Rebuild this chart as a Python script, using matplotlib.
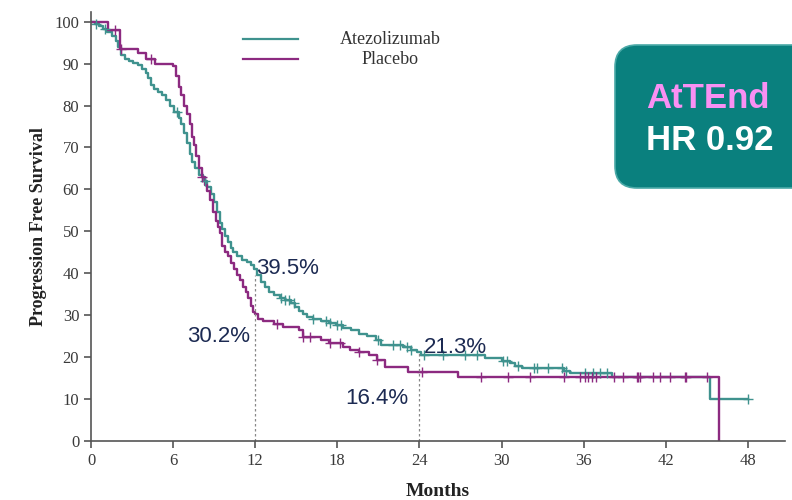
import numpy as np
import matplotlib
matplotlib.use("Agg")
import matplotlib.pyplot as plt
from matplotlib.patches import FancyBboxPatch
from matplotlib.lines import Line2D
from matplotlib.transforms import IdentityTransform

# ---------- data
atezo_t = [0, 0.3, 0.6, 0.9, 1.2, 1.5, 1.8, 2.0, 2.2, 2.5, 2.8, 3.1, 3.4, 3.7, 4.0,
           4.2, 4.4, 4.6, 4.9, 5.2, 5.5, 5.8, 6.1, 6.4, 6.6, 6.8, 7.0, 7.2, 7.4,
           7.6, 7.9, 8.2, 8.5, 8.8, 9.0, 9.2, 9.4, 9.6, 9.8, 10.0, 10.2, 10.4,
           10.7, 11.0, 11.4, 11.7, 11.9, 12.1, 12.4, 12.7, 13.0, 13.4, 13.8, 14.2,
           14.6, 14.9, 15.2, 15.5, 15.8, 16.2, 16.8, 17.4, 17.9, 18.4, 19.0, 19.6,
           20.2, 20.8, 21.2, 22.8, 23.4, 23.8, 24.1, 28.8, 30.0, 30.6, 31.0, 31.5,
           34.6, 35.0, 38.1, 45.2, 48.0]
atezo_s = [100, 99.5, 99, 98.3, 97.5, 96.5, 95.5, 94, 92, 91.2, 90.7, 90.2, 89.6, 88.8, 87.8,
           86.6, 85, 84, 83.3, 82.5, 81.2, 80, 78.5, 77, 75.5, 73.5, 71, 68.5, 66.5,
           65, 63.5, 62, 60.6, 59, 57, 54.5, 52, 50.5, 49, 47.5, 46, 45,
           44, 43.2, 42.7, 42, 41, 39.5, 38, 36.7, 35.6, 34.8, 34.2, 33.6,
           33, 32, 31, 30.2, 29.5, 29, 28.6, 28.2, 27.6, 27, 26.4, 25.6,
           25, 24, 23, 22.5, 21.8, 21.3, 20.5, 19.8, 19.1, 18.5, 17.8, 17.3,
           16.6, 16.2, 15.3, 10.1, 10.1]

placebo_t = [0, 1.25, 2.1, 3.4, 4.0, 4.7, 6.0, 6.2, 6.4, 6.6, 6.8, 7.0, 7.2, 7.35,
             7.5, 7.7, 7.9, 8.1, 8.3, 8.5, 8.7, 8.9, 9.1, 9.3, 9.45, 9.6, 9.8, 10.0,
             10.2, 10.45, 10.7, 10.9, 11.1, 11.3, 11.5, 11.7, 11.85, 12.0, 12.2,
             12.6, 13.4, 14.0, 15.2, 15.5, 16.8, 17.4, 18.4, 18.9, 19.6, 20.3, 20.9,
             21.5, 23.2, 26.8, 45.9]
placebo_s = [100, 98, 93.5, 92.5, 91, 90, 89.4, 87, 84.5, 82.5, 80, 78, 75.5, 72.5,
             70.5, 68, 65, 63, 61, 59.5, 57.5, 54.5, 52.5, 51, 49.5, 46.5, 45, 44,
             42.5, 41, 39.7, 38.3, 36.8, 35.5, 34, 32.3, 30.8, 30.2, 29.0,
             28.6, 28.0, 27.2, 26.5, 24.8, 24.2, 23.3, 22.5, 21.8, 21.2, 20.6, 19.4,
             17.6, 16.4, 15.2, 0]

# censored times
atezo_cens = [0.4, 1.0, 6.3, 8.3, 13.9, 14.2, 14.5, 14.8, 16.2, 17.2, 17.5, 18.0,
              18.3, 21.0, 22.1, 22.6, 23.1, 23.4, 24.3, 25.7, 27.3, 28.2, 30.1,
              30.4, 31.2, 32.4, 32.6, 33.4, 34.4, 34.7, 36.1, 36.7, 37.2, 37.7, 48.0]
placebo_cens = [1.75, 2.2, 4.4, 8.1, 13.6, 15.5, 16.0, 17.5, 18.2, 19.6, 20.9,
                24.2, 28.5, 30.5, 32.1, 34.6, 35.7, 36.1, 36.3, 36.6, 36.9, 38.2,
                38.9, 39.9, 40.0, 40.1, 41.1, 41.6, 42.3, 43.4, 43.5, 45.0]

landmarks = [12, 24]
atezo_lm = [39.5, 21.3]
placebo_lm = [30.2, 16.4]

teal = '#3f928e'
purple = '#8c2a80'


def surv_at(t, times, surv):
    i = np.searchsorted(times, t, side='right') - 1
    return np.array(surv)[i]


fig = plt.figure(figsize=(7.92, 5.0), dpi=100)
ax = fig.add_axes([0.1149, 0.118, 0.876, 0.858])

ax.plot(atezo_t, atezo_s, drawstyle='steps-post', color=teal, lw=1.7)
ax.plot(placebo_t, placebo_s, drawstyle='steps-post', color=purple, lw=1.7)
ax.plot(atezo_cens, surv_at(atezo_cens, atezo_t, atezo_s), '+', color=teal, ms=7, mew=1)
ax.plot(placebo_cens, surv_at(placebo_cens, placebo_t, placebo_s), '+', color=purple, ms=7, mew=1)

# landmark dashed lines
for x, a in zip(landmarks, atezo_lm):
    ax.plot([x, x], [0, a], ls=(0, (2, 2)), color='#888888', lw=0.9)

lab_col = '#1c2a52'
ax.text(12.05, atezo_lm[0] + 1.7, '39.5%', fontsize=16, color=lab_col, ha='left', va='center',
        family='Liberation Sans')
ax.text(11.6, placebo_lm[0] - 5.3, '30.2%', fontsize=16, color=lab_col, ha='right', va='center',
        family='Liberation Sans')
ax.text(24.3, atezo_lm[1] + 1.0, '21.3%', fontsize=16, color=lab_col, ha='left', va='center',
        family='Liberation Sans')
ax.text(23.2, placebo_lm[1] - 6.3, '16.4%', fontsize=16, color=lab_col, ha='right', va='center',
        family='Liberation Sans')

ax.set_xlim(0, 50.7)
ax.set_ylim(0, 102.3)
ax.set_xticks(range(0, 49, 6))
ax.set_yticks(range(0, 101, 10))
for s in ['top', 'right']:
    ax.spines[s].set_visible(False)
for s in ['left', 'bottom']:
    ax.spines[s].set_color('#555555')
    ax.spines[s].set_linewidth(1.2)
ax.tick_params(colors='#555555', length=5, width=1.2, labelcolor='#3a3a3a', labelsize=12)
for lab in ax.get_xticklabels() + ax.get_yticklabels():
    lab.set_family('Liberation Serif')
ax.set_xlabel('Months', family='Liberation Serif', fontweight='bold', fontsize=14,
              color='#222222', labelpad=10)
ax.set_ylabel('Progression Free Survival', family='Liberation Serif', fontweight='bold',
              fontsize=13, color='#222222', labelpad=5)

# legend drawn by hand
fig.add_artist(Line2D([243 / 792, 298 / 792], [1 - 39 / 500, 1 - 39 / 500], color=teal, lw=1.6))
fig.add_artist(Line2D([243 / 792, 298 / 792], [1 - 59 / 500, 1 - 59 / 500], color=purple, lw=1.6))
fig.text(390 / 792, 1 - 39 / 500, 'Atezolizumab', ha='center', va='center',
         family='Liberation Serif', fontsize=13, color='#333333')
fig.text(390 / 792, 1 - 59 / 500, 'Placebo', ha='center', va='center',
         family='Liberation Serif', fontsize=13, color='#333333')

# AtTEnd badge
box = FancyBboxPatch((615, 312), 220, 143, boxstyle='round,pad=0,rounding_size=22',
                     transform=IdentityTransform(), facecolor='#0a807e',
                     edgecolor='#4aa9a7', lw=1.2)
fig.add_artist(box)
fig.text(708 / 792, 1 - 98 / 500, 'AtTEnd', ha='center', va='center', color='#f990f3',
         fontsize=25, fontweight='bold', family='Liberation Sans')
fig.text(710 / 792, 1 - 140 / 500, 'HR 0.92', ha='center', va='center', color='white',
         fontsize=25, fontweight='bold', family='Liberation Sans')

plt.savefig('out.png', dpi=100)
